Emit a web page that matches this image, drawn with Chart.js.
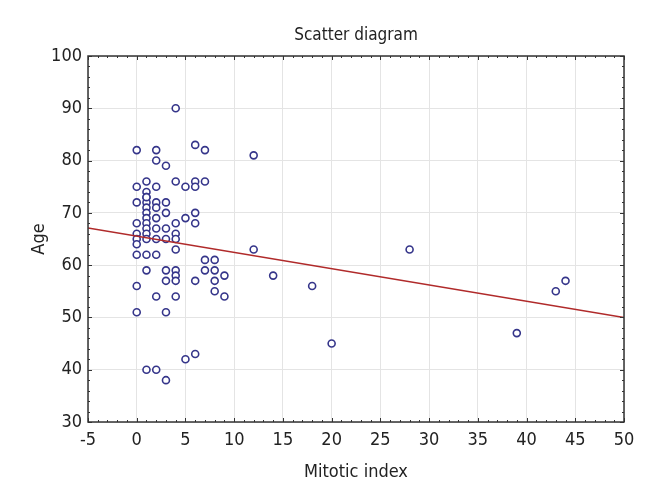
<!DOCTYPE html>
<html>
<head>
<meta charset="utf-8">
<script src="https://cdn.jsdelivr.net/npm/chart.js@4"></script>
<style>
  body { margin: 0; background: #fff; }
</style>
</head>
<body>
<canvas id="myChart" width="660" height="500"></canvas>
<script>
// values
const mitoticIndex = [
  0, 0, 0, 0, 0, 0, 0, 0, 0, 0,
  1, 1, 1, 1, 1, 1, 1, 1, 1, 1, 1, 1, 1, 1, 1,
  2, 2, 2, 2, 2, 2, 2, 2, 2, 2, 2,
  3, 3, 3, 3, 3, 3, 3, 3, 3,
  4, 4, 4, 4, 4, 4, 4, 4, 4, 4,
  5, 5, 5,
  6, 6, 6, 6, 6, 6, 6,
  7, 7, 7, 7,
  8, 8, 8, 8,
  9, 9,
  12, 12, 14, 18, 20, 28, 39, 43, 44
];
const age = [
  82, 75, 72, 68, 66, 65, 64, 62, 56, 51,
  76, 74, 73, 72, 71, 70, 69, 68, 67, 66, 65, 62, 59, 40, 73,
  82, 80, 75, 72, 71, 69, 67, 65, 62, 54, 40,
  79, 72, 70, 67, 65, 59, 57, 51, 38,
  90, 76, 68, 66, 65, 63, 59, 58, 57, 54,
  75, 69, 42,
  83, 76, 75, 70, 68, 57, 43,
  82, 76, 61, 59,
  61, 59, 57, 55,
  58, 54,
  81, 63, 58, 56, 45, 63, 47, 55, 57
];
// fitted line end points
const fitX = [-5, 50];
const fitY = [67.1, 50.0];

const xTicks = [-5, 0, 5, 10, 15, 20, 25, 30, 35, 40, 45, 50];
const yTicks = [30, 40, 50, 60, 70, 80, 90, 100];

const fontFamily = "'Liberation Sans Narrow', 'DejaVu Sans Condensed', sans-serif";
Chart.defaults.font.family = fontFamily;
Chart.defaults.color = '#222';

const points = mitoticIndex.map((x, i) => ({ x: x, y: age[i] }));
const fitLine = fitX.map((x, i) => ({ x: x, y: fitY[i] }));

// frame + small inward ticks, title centred over the plot
const framePlugin = {
  id: 'frame',
  beforeDraw(chart) {
    const t = chart.titleBlock;
    if (t) {
      t.left = chart.chartArea.left;
      t.right = chart.chartArea.right;
      t.width = t.right - t.left;
    }
  },
  afterDraw(chart) {
    const ctx = chart.ctx;
    const a = chart.chartArea;
    const xs = chart.scales.x, ys = chart.scales.y;
    ctx.save();
    ctx.strokeStyle = '#333';
    ctx.lineWidth = 1;
    ctx.beginPath();
    for (let v = xTicks[0]; v <= xTicks[xTicks.length - 1]; v++) {
      const px = Math.round(xs.getPixelForValue(v)) + 0.5;
      const len = v % 5 === 0 ? 4 : 2;
      ctx.moveTo(px, a.bottom); ctx.lineTo(px, a.bottom - len);
      ctx.moveTo(px, a.top); ctx.lineTo(px, a.top + len);
    }
    for (let v = yTicks[0]; v <= yTicks[yTicks.length - 1]; v += 2) {
      const py = Math.round(ys.getPixelForValue(v)) + 0.5;
      const len = v % 10 === 0 ? 4 : 2;
      ctx.moveTo(a.left, py); ctx.lineTo(a.left + len, py);
      ctx.moveTo(a.right, py); ctx.lineTo(a.right - len, py);
    }
    ctx.stroke();
    ctx.lineWidth = 1.5;
    ctx.strokeRect(a.left, a.top, a.right - a.left, a.bottom - a.top);
    ctx.restore();
  }
};

new Chart(document.getElementById('myChart'), {
  type: 'scatter',
  data: {
    datasets: [
      {
        type: 'line',
        label: 'Fit',
        data: fitLine,
        borderColor: '#b02a2a',
        borderWidth: 1.5,
        pointRadius: 0,
        fill: false
      },
      {
        label: 'Age',
        data: points,
        pointStyle: 'circle',
        pointRadius: 3.5,
        borderWidth: 1.6,
        borderColor: '#35358a',
        backgroundColor: '#ffffff'
      }
    ]
  },
  options: {
    responsive: false,
    animation: false,
    layout: { padding: { left: 0, right: 36, top: 0, bottom: 0 } },
    plugins: {
      legend: { display: false },
      tooltip: { enabled: false },
      title: {
        display: true,
        text: 'Scatter diagram',
        color: '#222',
        font: { size: 17, weight: 'normal' },
        padding: { top: 25, bottom: 10.6 }
      }
    },
    scales: {
      x: {
        type: 'linear',
        min: -5,
        max: 50,
        afterFit(scale) { scale.height = 78; },
        afterBuildTicks(scale) { scale.ticks = xTicks.map(v => ({ value: v })); },
        grid: { color: '#e4e4e4', drawTicks: false },
        border: { display: false },
        ticks: { padding: 8, font: { size: 18 }, color: '#222' },
        title: {
          display: true,
          text: 'Mitotic index',
          font: { size: 18 },
          color: '#222',
          padding: { top: 0, bottom: 17 }
        }
      },
      y: {
        type: 'linear',
        min: 30,
        max: 100,
        afterFit(scale) { scale.width = 88; },
        afterBuildTicks(scale) { scale.ticks = yTicks.map(v => ({ value: v })); },
        grid: { color: '#e4e4e4', drawTicks: false },
        border: { display: false },
        ticks: { padding: 6, font: { size: 18 }, color: '#222' },
        title: {
          display: true,
          text: 'Age',
          font: { size: 18 },
          color: '#222',
          padding: { top: 29, bottom: 0 }
        }
      }
    }
  },
  plugins: [framePlugin]
});
</script>
</body>
</html>
